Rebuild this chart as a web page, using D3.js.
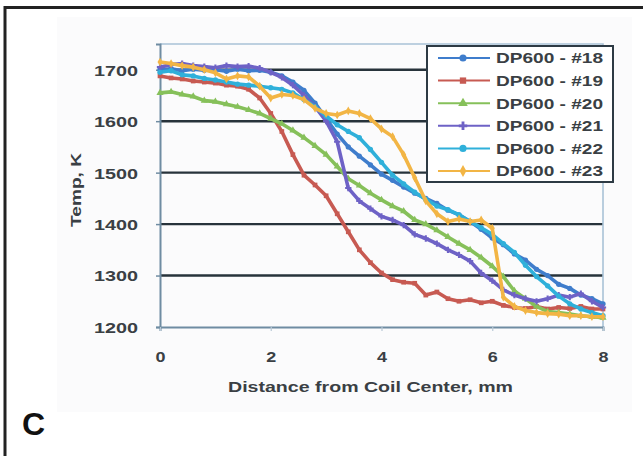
<!DOCTYPE html>
<html>
<head>
<meta charset="utf-8">
<script src="https://cdn.jsdelivr.net/npm/d3@7"></script>
<style>
  html, body { margin: 0; padding: 0; background: #ffffff; }
  svg { display: block; font-family: Arial, "Liberation Sans", sans-serif; }
</style>
</head>
<body>
<svg id="chart" width="643" height="456"></svg>
<script>
// Distance from coil center (mm), shared by every series
const distance = [0, 0.2, 0.4, 0.6, 0.8, 1.0, 1.2, 1.4, 1.6, 1.8, 2.0, 2.2, 2.4, 2.6, 2.8, 3.0, 3.2, 3.4, 3.6, 3.8,
                  4.0, 4.2, 4.4, 4.6, 4.8, 5.0, 5.2, 5.4, 5.6, 5.8, 6.0, 6.2, 6.4, 6.6, 6.8, 7.0, 7.2, 7.4, 7.6, 7.8, 8.0];

// Measured temperatures (K) per specimen
const dp600_18 = [1700, 1702, 1698, 1701, 1699, 1700, 1697, 1701, 1698, 1699, 1695, 1688, 1676, 1660, 1635, 1605, 1575, 1550, 1532, 1515,
                  1497, 1485, 1472, 1460, 1450, 1440, 1427, 1418, 1405, 1390, 1373, 1360, 1342, 1330, 1312, 1300, 1283, 1275, 1262, 1255, 1245];
const dp600_19 = [1688, 1684, 1682, 1678, 1676, 1674, 1670, 1668, 1662, 1645, 1615, 1580, 1535, 1495, 1476, 1455, 1420, 1385, 1350, 1325,
                  1305, 1292, 1287, 1285, 1262, 1268, 1255, 1250, 1253, 1247, 1250, 1242, 1238, 1236, 1240, 1235, 1238, 1236, 1240, 1235, 1235];
const dp600_20 = [1655, 1657, 1652, 1648, 1640, 1638, 1633, 1628, 1622, 1615, 1605, 1595, 1582, 1568, 1552, 1535, 1512, 1488, 1475, 1460,
                  1447, 1435, 1425, 1408, 1400, 1388, 1375, 1362, 1350, 1335, 1318, 1298, 1270, 1255, 1240, 1230, 1228, 1225, 1222, 1220, 1218];
const dp600_21 = [1705, 1710, 1712, 1708, 1706, 1704, 1708, 1706, 1707, 1703, 1695, 1685, 1670, 1650, 1628, 1600, 1560, 1470, 1445, 1430,
                  1415, 1408, 1398, 1380, 1372, 1362, 1350, 1340, 1328, 1305, 1290, 1272, 1262, 1255, 1250, 1255, 1262, 1258, 1265, 1250, 1238];
const dp600_22 = [1695, 1698, 1690, 1688, 1683, 1680, 1676, 1672, 1670, 1668, 1665, 1662, 1655, 1642, 1628, 1610, 1593, 1580, 1568, 1545,
                  1520, 1495, 1478, 1462, 1448, 1435, 1428, 1418, 1405, 1393, 1380, 1362, 1345, 1320, 1298, 1280, 1260, 1245, 1235, 1228, 1222];
const dp600_23 = [1715, 1712, 1708, 1705, 1700, 1694, 1682, 1688, 1686, 1668, 1645, 1652, 1650, 1642, 1625, 1615, 1612, 1620, 1615, 1605,
                  1585, 1570, 1535, 1490, 1445, 1420, 1405, 1410, 1405, 1408, 1392, 1258, 1240, 1232, 1228, 1226, 1225, 1222, 1222, 1220, 1220];

const seriesNames = ["DP600 - #18", "DP600 - #19", "DP600 - #20", "DP600 - #21", "DP600 - #22", "DP600 - #23"];
const seriesValues = [dp600_18, dp600_19, dp600_20, dp600_21, dp600_22, dp600_23];
const seriesColors = ["#3f7dcc", "#c75a52", "#86c05a", "#6e62c6", "#2fb0da", "#f2b545"];
const seriesSymbols = [d3.symbolCircle, d3.symbolSquare, d3.symbolTriangle, d3.symbolCross, d3.symbolCircle, d3.symbolDiamond];

const xTicks = [0, 2, 4, 6, 8];
const yTicks = [1200, 1300, 1400, 1500, 1600, 1700];

const svg = d3.select("#chart");
const W = 643, H = 456;
const plot = { left: 160, right: 603, top: 44, bottom: 327 };

const x = d3.scaleLinear().domain([0, 8]).range([plot.left, plot.right]);
const y = d3.scaleLinear().domain([1200, 1750]).range([plot.bottom, plot.top]);

// Panel frame and soft figure background
svg.append("rect").attr("x", 57).attr("y", 17).attr("width", 575).attr("height", 395).attr("fill", "#fbfbfc");
svg.append("path").attr("d", `M5,${H + 5} V7.5 H${W + 5}`).attr("fill", "none").attr("stroke", "#222").attr("stroke-width", 3);

// Horizontal gridlines
svg.append("g").selectAll("line")
  .data(yTicks.filter(t => t > 1200))
  .join("line")
  .attr("x1", plot.left).attr("x2", plot.right)
  .attr("y1", d => y(d)).attr("y2", d => y(d))
  .attr("stroke", "#27333b").attr("stroke-width", 2.4);

// Plot area border (top/right light)
svg.append("path")
  .attr("d", `M${plot.left},${plot.top} H${plot.right} V${plot.bottom}`)
  .attr("fill", "none").attr("stroke", "#a9c2d6").attr("stroke-width", 1.6);

// Axes
const yAxis = d3.axisLeft(y).tickValues(yTicks).tickSize(4).tickFormat(d3.format("d"));
const gy = svg.append("g").attr("transform", `translate(${plot.left},0)`).call(yAxis);
gy.select(".domain").attr("stroke", "#6f8ca2").attr("stroke-width", 2);
gy.selectAll(".tick line").attr("stroke", "#6f8ca2").attr("stroke-width", 1.5);
gy.selectAll(".tick text")
  .attr("x", -22).attr("dy", "0.36em")
  .attr("font-size", 15).attr("font-weight", "bold").attr("fill", "#3a3f44")
  .attr("textLength", 44).attr("lengthAdjust", "spacingAndGlyphs");

const xAxis = d3.axisBottom(x).tickValues(xTicks).tickSize(4).tickFormat(d3.format("d"));
const gx = svg.append("g").attr("transform", `translate(0,${plot.bottom})`).call(xAxis);
gx.select(".domain").attr("stroke", "#6f8ca2").attr("stroke-width", 2);
gx.selectAll(".tick line").attr("stroke", "#b9c9d6").attr("stroke-width", 1.2);
gx.selectAll(".tick text")
  .attr("y", 30).attr("dy", "0.36em")
  .attr("font-size", 15).attr("font-weight", "bold").attr("fill", "#3a3f44")
  .attr("textLength", 10).attr("lengthAdjust", "spacingAndGlyphs");

// Axis titles
svg.append("text")
  .attr("x", (plot.left + plot.right) / 2 - 11).attr("y", 392)
  .attr("text-anchor", "middle").attr("font-size", 15).attr("font-weight", "bold").attr("fill", "#3a3f44")
  .attr("textLength", 285).attr("lengthAdjust", "spacingAndGlyphs")
  .text("Distance from Coil Center, mm");

svg.append("text")
  .attr("transform", "translate(81,190) rotate(-90)")
  .attr("text-anchor", "middle").attr("font-size", 15).attr("font-weight", "bold").attr("fill", "#3a3f44")
  .attr("textLength", 74).attr("lengthAdjust", "spacingAndGlyphs")
  .text("Temp, K");

// Series lines with markers
const line = d3.line().x((d, i) => x(distance[i])).y(d => y(d));
const gSeries = svg.append("g");
seriesValues.forEach((vals, s) => {
  gSeries.append("path")
    .attr("d", line(vals))
    .attr("fill", "none")
    .attr("stroke", seriesColors[s])
    .attr("stroke-width", 3.6)
    .attr("stroke-linejoin", "round");
  gSeries.append("g").selectAll("path")
    .data(vals)
    .join("path")
    .attr("transform", (d, i) => `translate(${x(distance[i])},${y(d)})`)
    .attr("d", d3.symbol().type(seriesSymbols[s]).size(22))
    .attr("fill", seriesColors[s]);
});

// Legend
const legend = svg.append("g");
legend.append("rect")
  .attr("x", 427).attr("y", 46).attr("width", 186).attr("height", 136)
  .attr("fill", "#ffffff").attr("stroke", "#2d3a44").attr("stroke-width", 2);
seriesNames.forEach((name, s) => {
  const ly = 58 + s * 22.6;
  legend.append("line")
    .attr("x1", 438).attr("x2", 490).attr("y1", ly).attr("y2", ly)
    .attr("stroke", seriesColors[s]).attr("stroke-width", 2);
  legend.append("path")
    .attr("transform", `translate(463,${ly})`)
    .attr("d", d3.symbol().type(seriesSymbols[s]).size(40))
    .attr("fill", seriesColors[s]);
  legend.append("text")
    .attr("x", 496).attr("y", ly).attr("dy", "0.36em")
    .attr("font-size", 15).attr("font-weight", "bold").attr("fill", "#3a3f44")
    .attr("textLength", 107).attr("lengthAdjust", "spacingAndGlyphs")
    .text(name);
});

// Panel letter
svg.append("text")
  .attr("x", 22).attr("y", 435)
  .attr("font-size", 32).attr("font-weight", "bold").attr("fill", "#111")
  .text("C");
</script>
</body>
</html>
